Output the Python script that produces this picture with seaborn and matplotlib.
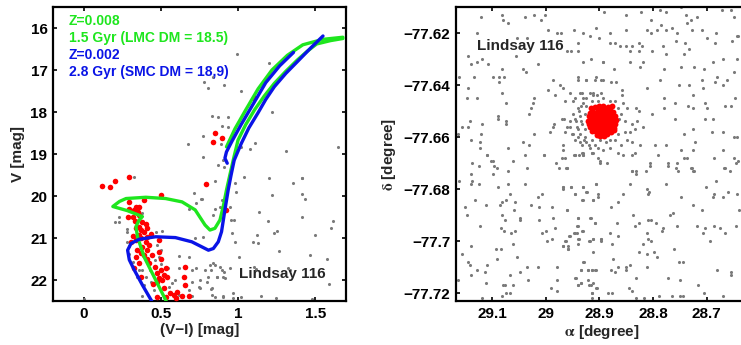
import matplotlib
matplotlib.use('Agg')
import matplotlib.pyplot as plt
import pandas as pd
import seaborn as sns

# ---------------- CMD (left panel) ----------------
# field stars (V-I, V)
cmd_field = [
    (0.996, 16.62), (1.017, 17.5), (0.782, 17.28), (0.803, 17.42), (0.91, 17.36), (0.829, 18.10),
    (0.867, 18.11), (0.936, 18.11), (0.893, 18.33), (0.936, 18.35), (0.77, 18.56), (0.675, 18.77),
    (0.889, 18.75), (0.77, 19.06), (0.872, 19.25), (0.91, 19.30), (0.323, 19.54),
    (1.199, 16.83), (0.84, 17.17), (1.218, 18.0), (1.111, 18.73), (1.075, 18.88), (1.31, 18.94),
    (1.647, 18.83), (1.038, 19.55), (1.412, 19.56), (1.017, 18.83), (0.904, 19.14),
    (1.199, 19.58), (1.417, 19.58), (1.359, 19.70), (1.218, 19.98), (1.417, 19.96), (1.432, 20.08),
    (1.134, 20.39), (1.192, 20.59), (1.417, 20.51), (1.615, 20.59), (1.604, 20.75), (1.252, 20.83),
    (1.235, 20.89), (1.124, 20.94), (1.502, 20.94), (1.096, 21.09), (1.128, 21.13), (1.263, 21.31),
    (1.004, 21.45), (1.466, 21.40), (1.577, 21.50), (1.103, 21.70), (1.117, 21.74), (1.325, 21.72),
    (1.338, 21.76), (0.947, 21.72), (0.851, 21.64), (0.822, 21.76), (0.91, 21.80), (0.883, 21.70),
    (0.808, 21.92), (0.861, 21.93), (0.915, 21.96), (1.587, 22.09), (0.825, 22.22), (0.829, 22.35),
    (0.904, 22.39), (0.968, 22.31), (0.968, 22.42), (1.021, 22.41), (1.149, 22.39), (1.245, 22.43),
    (1.48, 22.45), (0.752, 22.19), (0.761, 20.08), (0.851, 20.30), (0.953, 20.58), (0.974, 20.57),
    (0.947, 20.26), (0.893, 20.10), (0.989, 19.90), (0.979, 19.70), (0.963, 20.87), (0.982, 21.1),
    (0.85, 19.64), (0.712, 19.92), (0.765, 20.08), (0.727, 20.16), (0.68, 20.32), (0.84, 20.45),
    (0.883, 20.27), (0.199, 20.61), (0.227, 20.49), (0.231, 20.61), (0.278, 20.85), (0.28, 20.79),
    (0.38, 20.40), (0.466, 20.85), (0.509, 20.83), (0.278, 21.09), (0.295, 21.19), (0.477, 21.17),
    (0.498, 21.29), (0.487, 21.46), (0.615, 21.43), (0.68, 21.45), (0.776, 20.97), (0.722, 21.01),
    (0.462, 21.52), (0.498, 21.62), (0.547, 21.72), (0.615, 21.72), (0.7, 21.76), (0.727, 21.72),
    (0.818, 21.64), (0.84, 21.60), (0.893, 21.76), (0.786, 21.76), (0.861, 21.92), (0.904, 21.92),
    (0.754, 22.0), (0.797, 22.04), (0.744, 22.16), (0.7, 22.04), (0.594, 22.0), (0.573, 22.08),
    (0.551, 22.16), (0.68, 22.24), (0.829, 22.2), (0.85, 22.4), (0.904, 22.4), (0.7, 22.38),
    (0.615, 22.36), (0.38, 22.38), (0.348, 21.92), (0.316, 21.56), (0.402, 21.92), (0.434, 22.04),
    (0.391, 22.12), (0.455, 22.24), (0.43, 21.76), (0.359, 21.76), (0.295, 21.37), (0.38, 21.76),
    (0.0, 22.45),
]

# cluster members (V-I, V)
cmd_members = [
    (0.291, 19.54), (0.205, 19.64), (0.12, 19.75), (0.167, 19.79), (0.79, 19.71), (0.498, 19.98),
    (0.391, 20.10), (0.295, 20.14), (0.338, 20.27), (0.359, 20.27), (0.327, 20.33), (0.295, 20.32),
    (0.353, 20.37), (0.316, 20.49), (0.284, 20.49), (0.38, 20.63), (0.402, 20.67), (0.359, 20.73),
    (0.338, 20.77), (0.37, 20.81), (0.412, 20.77), (0.391, 20.85), (0.434, 20.90), (0.359, 20.93),
    (0.316, 20.95), (0.338, 21.05), (0.306, 21.09), (0.37, 21.01), (0.412, 20.97), (0.487, 21.05),
    (0.423, 21.17), (0.38, 21.21), (0.412, 21.29), (0.348, 21.29), (0.444, 21.41), (0.391, 21.41),
    (0.338, 21.46), (0.412, 21.51), (0.498, 21.51), (0.423, 21.60), (0.359, 21.59), (0.327, 21.72),
    (0.37, 21.92), (0.53, 21.72), (0.498, 21.76), (0.477, 21.84), (0.519, 21.88), (0.487, 21.96),
    (0.541, 21.92), (0.509, 22.0), (0.658, 21.68), (0.648, 21.94), (0.477, 22.04), (0.658, 22.12),
    (0.605, 22.28), (0.583, 22.36), (0.637, 22.38), (0.68, 22.38), (0.562, 22.32), (0.477, 22.41),
    (0.536, 22.40), (0.925, 20.33), (0.487, 21.33), (0.85, 18.51), (0.84, 18.71), (0.893, 18.61),
    (1.103, 17.66), (0.33, 20.60), (0.36, 20.45), (0.40, 21.10), (0.37, 21.35), (0.46, 21.70),
    (0.45, 22.10), (0.52, 22.20), (0.60, 22.42),
]

# isochrone Z=0.008, 1.5 Gyr (LMC DM = 18.5)
iso_lmc_vi = [0.534, 0.466, 0.391, 0.348, 0.338, 0.359, 0.38, 0.284, 0.188, 0.231, 0.274, 0.402,
              0.53, 0.637, 0.722, 0.786, 0.818, 0.85, 0.883, 0.904, 0.925, 0.95, 0.975, 1.0, 1.05,
              1.107, 1.17, 1.235, 1.31, 1.385, 1.45, 1.51, 1.6, 1.68]
iso_lmc_v = [22.5, 22.0, 21.45, 20.97, 20.73, 20.57, 20.49, 20.35, 20.25, 20.13, 20.06, 20.03,
             20.06, 20.14, 20.33, 20.69, 20.81, 20.77, 20.57, 20.25, 19.86, 19.45, 19.05, 18.67, 18.3,
             17.95, 17.62, 17.32, 17.03, 16.76, 16.55, 16.38, 16.3, 16.25]
iso_lmc_agb_vi = [0.925, 0.98, 1.05, 1.13, 1.22, 1.32, 1.42, 1.55, 1.68]
iso_lmc_agb_v = [18.83, 18.4, 17.95, 17.45, 17.0, 16.65, 16.4, 16.27, 16.22]

# isochrone Z=0.002, 2.8 Gyr (SMC DM = 18.9)
iso_smc_vi = [0.44, 0.38, 0.327, 0.295, 0.284, 0.306, 0.359, 0.466, 0.594, 0.70, 0.765, 0.808,
              0.84, 0.872, 0.893, 0.915, 0.936, 0.955, 0.975, 1.021, 1.07, 1.128, 1.18, 1.235,
              1.31, 1.385, 1.47, 1.551]
iso_smc_v = [22.5, 22.12, 21.76, 21.52, 21.29, 21.13, 21.03, 20.97, 20.99, 21.09, 21.21, 21.29,
             21.25, 21.09, 20.85, 20.33, 19.86, 19.5, 19.15, 18.75, 18.38, 18.03, 17.7, 17.40,
             17.08, 16.80, 16.48, 16.19]
iso_smc_agb_vi = [0.93, 0.915, 0.925, 0.96, 1.02, 1.1, 1.18, 1.27, 1.36]
iso_smc_agb_v = [19.22, 19.1, 18.95, 18.7, 18.3, 17.8, 17.3, 16.9, 16.58]

cmd_xticks = [0, 0.5, 1, 1.5]
cmd_yticks = [16, 17, 18, 19, 20, 21, 22]

# ---------------- sky map (right panel) ----------------
map_field = [
    (29.120, -77.614), (29.082, -77.613), (29.079, -77.615), (29.071, -77.616), (29.039, -77.614),
    (29.021, -77.613), (29.009, -77.615), (29.001, -77.613), (28.996, -77.619), (28.979, -77.620),
    (28.971, -77.620), (28.948, -77.619), (28.931, -77.620), (28.917, -77.621), (29.128, -77.620),
    (29.053, -77.622), (29.035, -77.622), (28.939, -77.624), (28.961, -77.627), (28.953, -77.627),
    (28.940, -77.627), (29.145, -77.629), (29.127, -77.631), (29.118, -77.630), (29.108, -77.632),
    (29.139, -77.632), (29.056, -77.629), (29.015, -77.632), (28.930, -77.631), (28.915, -77.630),
    (28.894, -77.631), (29.082, -77.634), (29.043, -77.634), (29.037, -77.635), (29.161, -77.637),
    (29.133, -77.637), (29.099, -77.637), (29.086, -77.637), (29.077, -77.637), (29.086, -77.639),
    (28.986, -77.638), (28.940, -77.638), (28.925, -77.638), (28.909, -77.638), (28.896, -77.638),
    (29.145, -77.641), (29.081, -77.643), (28.996, -77.642), (28.973, -77.640), (28.967, -77.641),
    (28.955, -77.643), (29.147, -77.645), (29.128, -77.645), (29.074, -77.647), (29.022, -77.645),
    (28.983, -77.644), (29.023, -77.647), (29.027, -77.649), (28.945, -77.645), (29.031, -77.651),
    (29.089, -77.652), (29.089, -77.653), (29.073, -77.654), (29.073, -77.655), (28.985, -77.655),
    (28.987, -77.656), (28.966, -77.653), (29.156, -77.656), (29.145, -77.656), (29.141, -77.654),
    (29.118, -77.655), (28.992, -77.658), (28.964, -77.658), (29.022, -77.659), (29.163, -77.659),
    (29.120, -77.659), (29.139, -77.661), (29.122, -77.662), (29.043, -77.662), (29.031, -77.663),
    (29.070, -77.664), (29.122, -77.664), (29.110, -77.667), (29.004, -77.667), (28.967, -77.665),
    (28.945, -77.667), (28.933, -77.666),
    (28.936, -77.643), (28.930, -77.645), (28.917, -77.643), (28.911, -77.644), (28.902, -77.646),
    (28.934, -77.648), (28.924, -77.648), (28.938, -77.650), (28.927, -77.651), (28.945, -77.653),
    (28.934, -77.654), (28.955, -77.656), (28.939, -77.657), (28.927, -77.657), (28.951, -77.659),
    (28.939, -77.660), (28.928, -77.661), (28.920, -77.663), (28.933, -77.663), (28.914, -77.666),
    (28.930, -77.667),
    (29.109, -77.667), (29.137, -77.670), (29.102, -77.669), (29.098, -77.669), (29.124, -77.671),
    (29.097, -77.671), (29.090, -77.672), (29.061, -77.669), (29.039, -77.667), (29.004, -77.667),
    (28.969, -77.668), (28.948, -77.667), (28.938, -77.667), (28.930, -77.666), (28.913, -77.666),
    (28.902, -77.668), (28.898, -77.669), (28.980, -77.670), (28.962, -77.672), (28.975, -77.672),
    (29.035, -77.672), (29.071, -77.673), (29.099, -77.674), (29.140, -77.674), (29.137, -77.677),
    (29.139, -77.678), (29.161, -77.677), (29.124, -77.678), (29.070, -77.678), (29.089, -77.679),
    (29.039, -77.678), (28.967, -77.679), (28.967, -77.680), (28.952, -77.679), (28.930, -77.679),
    (28.906, -77.678), (28.923, -77.681), (28.945, -77.682), (28.902, -77.683), (28.932, -77.684),
    (28.911, -77.684), (29.006, -77.682), (29.015, -77.683), (29.067, -77.682), (29.073, -77.684),
    (29.082, -77.685), (29.058, -77.685), (29.085, -77.686), (29.111, -77.686), (29.132, -77.684),
    (29.027, -77.686), (29.012, -77.687), (28.988, -77.687), (28.960, -77.688), (29.059, -77.688),
    (29.150, -77.687), (29.147, -77.690), (29.081, -77.690), (29.076, -77.692), (29.047, -77.691),
    (29.047, -77.692), (29.013, -77.692), (28.986, -77.691), (28.939, -77.691), (28.917, -77.691),
    (28.909, -77.693), (28.940, -77.694), (29.122, -77.694), (29.083, -77.695), (29.077, -77.696),
    (29.058, -77.696), (29.065, -77.697), (29.000, -77.696), (29.006, -77.697), (28.983, -77.695),
    (28.989, -77.699), (28.998, -77.700), (28.947, -77.697), (28.942, -77.697), (28.932, -77.696),
    (28.955, -77.698), (28.938, -77.699), (28.917, -77.700), (28.911, -77.699), (28.897, -77.699),
    (28.897, -77.700), (28.963, -77.700), (28.967, -77.702), (28.959, -77.702), (28.958, -77.703),
    (28.939, -77.701), (28.912, -77.704), (29.060, -77.701), (29.140, -77.702), (29.155, -77.705),
    (29.084, -77.703), (29.093, -77.703), (29.053, -77.706), (29.090, -77.707), (29.144, -77.708),
    (29.141, -77.709), (29.109, -77.709), (29.015, -77.710), (28.979, -77.710), (29.035, -77.710),
    (28.929, -77.708), (28.935, -77.711), (28.914, -77.711), (28.907, -77.711), (28.922, -77.711),
    (29.127, -77.711), (29.113, -77.712), (29.140, -77.713), (29.047, -77.712), (29.066, -77.713),
    (29.033, -77.715), (28.978, -77.715), (28.944, -77.714), (29.163, -77.715), (29.112, -77.716),
    (29.076, -77.717), (29.079, -77.717), (29.060, -77.717), (28.934, -77.716), (28.939, -77.717),
    (28.920, -77.717), (28.911, -77.716), (28.905, -77.718), (28.990, -77.718), (28.978, -77.719),
    (29.066, -77.720), (29.074, -77.720), (29.082, -77.721), (29.119, -77.722), (28.914, -77.722),
    (28.914, -77.720),
    (28.891, -77.612), (28.851, -77.613), (28.823, -77.612), (28.804, -77.615), (28.787, -77.611),
    (28.776, -77.612), (28.748, -77.610), (28.739, -77.613), (28.737, -77.616), (28.729, -77.615),
    (28.719, -77.614), (28.672, -77.611), (28.655, -77.611), (28.650, -77.614), (28.906, -77.618),
    (28.850, -77.619), (28.811, -77.619), (28.804, -77.620), (28.792, -77.619), (28.786, -77.617),
    (28.776, -77.619), (28.764, -77.618), (28.756, -77.620), (28.727, -77.619), (28.709, -77.619),
    (28.683, -77.620), (28.642, -77.621), (28.881, -77.620), (28.900, -77.622), (28.881, -77.624),
    (28.871, -77.624), (28.862, -77.625), (28.851, -77.625), (28.840, -77.625), (28.827, -77.624),
    (28.821, -77.625), (28.843, -77.627), (28.826, -77.627), (28.801, -77.627), (28.781, -77.625),
    (28.757, -77.623), (28.741, -77.624), (28.700, -77.622), (28.685, -77.624), (28.653, -77.623),
    (28.643, -77.621), (28.775, -77.628), (28.742, -77.628), (28.733, -77.626), (28.670, -77.630),
    (28.644, -77.630), (28.894, -77.631), (28.843, -77.631), (28.818, -77.631), (28.824, -77.633),
    (28.872, -77.634), (28.779, -77.634), (28.747, -77.633), (28.724, -77.633), (28.705, -77.634),
    (28.689, -77.631), (28.650, -77.635), (28.787, -77.638), (28.811, -77.641), (28.751, -77.640),
    (28.733, -77.640), (28.708, -77.638), (28.706, -77.641), (28.680, -77.637), (28.670, -77.640),
    (28.685, -77.639), (28.663, -77.638), (28.779, -77.645), (28.759, -77.647), (28.725, -77.644),
    (28.703, -77.647), (28.700, -77.649), (28.734, -77.648), (28.725, -77.649), (28.665, -77.648),
    (28.655, -77.648), (28.647, -77.645), (28.704, -77.653), (28.688, -77.653), (28.759, -77.653),
    (28.801, -77.651), (28.780, -77.649), (28.742, -77.659), (28.725, -77.657), (28.691, -77.658),
    (28.670, -77.658), (28.650, -77.660), (28.644, -77.660), (28.722, -77.662), (28.796, -77.663),
    (28.790, -77.667), (28.776, -77.663), (28.747, -77.665), (28.726, -77.665), (28.742, -77.668),
    (28.737, -77.668), (28.687, -77.668), (28.670, -77.665), (28.649, -77.668), (28.641, -77.669),
    (28.772, -77.670), (28.755, -77.670), (28.728, -77.672), (28.668, -77.672), (28.725, -77.673),
    (28.806, -77.670), (28.840, -77.673), (28.831, -77.673),
    (28.911, -77.643), (28.905, -77.644), (28.896, -77.643), (28.893, -77.645), (28.880, -77.646),
    (28.871, -77.646), (28.857, -77.642), (28.858, -77.644), (28.914, -77.646), (28.930, -77.647),
    (28.924, -77.645), (28.933, -77.643), (28.869, -77.639), (28.878, -77.639), (28.894, -77.638),
    (28.906, -77.637), (28.925, -77.638), (28.939, -77.637), (28.949, -77.646), (28.939, -77.649),
    (28.949, -77.651), (28.936, -77.652), (28.944, -77.654), (28.955, -77.654), (28.961, -77.656),
    (28.942, -77.656), (28.933, -77.655), (28.950, -77.659), (28.936, -77.659), (28.927, -77.660),
    (28.945, -77.661), (28.936, -77.662), (28.924, -77.662), (28.914, -77.661), (28.908, -77.663),
    (28.899, -77.661), (28.888, -77.662), (28.880, -77.661), (28.871, -77.661), (28.859, -77.663),
    (28.849, -77.661), (28.865, -77.659), (28.852, -77.658), (28.843, -77.658), (28.834, -77.657),
    (28.840, -77.655), (28.852, -77.654), (28.863, -77.653), (28.860, -77.651), (28.849, -77.649),
    (28.831, -77.649), (28.826, -77.650), (28.829, -77.654), (28.818, -77.656), (28.855, -77.647),
    (28.865, -77.649), (28.917, -77.664), (28.902, -77.664), (28.893, -77.665), (28.880, -77.664),
    (28.865, -77.666), (28.855, -77.667), (28.840, -77.667), (28.834, -77.666), (28.911, -77.666),
    (28.930, -77.667), (28.945, -77.667), (28.964, -77.668), (28.899, -77.670), (28.886, -77.670),
    (28.967, -77.663), (28.970, -77.653), (28.964, -77.646), (28.961, -77.672), (28.824, -77.663),
    (28.840, -77.662),
    (28.967, -77.679), (28.952, -77.679), (28.945, -77.682), (28.931, -77.684), (28.931, -77.679),
    (28.924, -77.681), (28.911, -77.684), (28.906, -77.678), (28.902, -77.682), (28.961, -77.672),
    (28.879, -77.687), (28.865, -77.685), (28.855, -77.682), (28.842, -77.678), (28.839, -77.673),
    (28.831, -77.674), (28.813, -77.673), (28.805, -77.671), (28.811, -77.680), (28.807, -77.681),
    (28.809, -77.682), (28.776, -77.678), (28.772, -77.671), (28.757, -77.672), (28.753, -77.673),
    (28.729, -77.672), (28.724, -77.673), (28.702, -77.679), (28.682, -77.677), (28.666, -77.672),
    (28.657, -77.673), (28.646, -77.670), (28.660, -77.681), (28.687, -77.682), (28.689, -77.683),
    (28.670, -77.683), (28.644, -77.682), (28.639, -77.688), (28.747, -77.683), (28.725, -77.686),
    (28.709, -77.688), (28.961, -77.688), (28.939, -77.691), (28.916, -77.691), (28.909, -77.693),
    (28.942, -77.694), (28.945, -77.697), (28.931, -77.696), (28.956, -77.698), (28.964, -77.700),
    (28.958, -77.703), (28.968, -77.702), (28.939, -77.699), (28.919, -77.700), (28.911, -77.699),
    (28.897, -77.699), (28.881, -77.697), (28.865, -77.698), (28.876, -77.701), (28.867, -77.693),
    (28.837, -77.690), (28.826, -77.693), (28.834, -77.694), (28.810, -77.692), (28.803, -77.692),
    (28.795, -77.693), (28.811, -77.697), (28.810, -77.699), (28.818, -77.701), (28.803, -77.700),
    (28.781, -77.695), (28.784, -77.696), (28.768, -77.690), (28.762, -77.689), (28.755, -77.694),
    (28.760, -77.703), (28.719, -77.694), (28.703, -77.695), (28.706, -77.697), (28.687, -77.694),
    (28.675, -77.695), (28.665, -77.697), (28.645, -77.694), (28.694, -77.700), (28.827, -77.704),
    (28.812, -77.705), (28.798, -77.704), (28.792, -77.706), (28.874, -77.707), (28.930, -77.708),
    (28.935, -77.711), (28.922, -77.711), (28.914, -77.711), (28.908, -77.711), (28.879, -77.711),
    (28.871, -77.712), (28.865, -77.710), (28.851, -77.710), (28.843, -77.709), (28.851, -77.711),
    (28.812, -77.710), (28.752, -77.708), (28.744, -77.708), (28.681, -77.711), (28.655, -77.712),
    (28.655, -77.713), (28.945, -77.714), (28.935, -77.716), (28.939, -77.717), (28.921, -77.715),
    (28.916, -77.717), (28.906, -77.718), (28.914, -77.720), (28.832, -77.714), (28.844, -77.718),
    (28.840, -77.719), (28.772, -77.714), (28.750, -77.715), (28.717, -77.717), (28.705, -77.720),
    (28.669, -77.721), (28.883, -77.720), (28.877, -77.720), (28.831, -77.722), (28.817, -77.722),
    (28.788, -77.721), (28.764, -77.721), (28.750, -77.721), (28.744, -77.721),
]

# cluster members on the sky (alpha, delta)
map_members = [
    (28.876, -77.6480), (28.884, -77.6485), (28.893, -77.6480), (28.901, -77.6482), (28.909, -77.6486),
    (28.916, -77.6490), (28.880, -77.6495), (28.887, -77.6495), (28.895, -77.6497), (28.903, -77.6494),
    (28.874, -77.6505), (28.881, -77.6505), (28.887, -77.6508), (28.893, -77.6505), (28.899, -77.6505),
    (28.905, -77.6507), (28.912, -77.6505), (28.917, -77.6508), (28.870, -77.6520), (28.876, -77.6520),
    (28.883, -77.6522), (28.889, -77.6520), (28.895, -77.6520), (28.901, -77.6521), (28.907, -77.6520),
    (28.913, -77.6522), (28.919, -77.6520), (28.869, -77.6535), (28.875, -77.6535), (28.881, -77.6536),
    (28.888, -77.6535), (28.894, -77.6535), (28.900, -77.6534), (28.906, -77.6535), (28.912, -77.6536),
    (28.918, -77.6535), (28.921, -77.6540), (28.870, -77.6550), (28.877, -77.6550), (28.884, -77.6551),
    (28.890, -77.6550), (28.896, -77.6550), (28.902, -77.6549), (28.908, -77.6550), (28.914, -77.6551),
    (28.920, -77.6548), (28.873, -77.6565), (28.879, -77.6565), (28.885, -77.6566), (28.891, -77.6565),
    (28.897, -77.6565), (28.903, -77.6564), (28.909, -77.6565), (28.915, -77.6563), (28.878, -77.6580),
    (28.884, -77.6580), (28.890, -77.6581), (28.896, -77.6580), (28.902, -77.6580), (28.908, -77.6578),
    (28.913, -77.6576), (28.892, -77.6595), (28.898, -77.6597), (28.904, -77.6593), (28.886, -77.6590),
    (28.872, -77.6572), (28.918, -77.6560),
]

map_xticks = [29.1, 29.0, 28.9, 28.8, 28.7]
map_xticklabels = ['29.1', '29', '28.9', '28.8', '28.7']
map_yticks = [-77.62, -77.64, -77.66, -77.68, -77.70, -77.72]
map_yticklabels = ['\u221277.62', '\u221277.64', '\u221277.66', '\u221277.68', '\u221277.7', '\u221277.72']

LMC_GREEN = '#1ee61e'
SMC_BLUE = '#0a14e6'
FIELD_GREY = '#7a7a7a'

sns.set_style('ticks')
plt.rcParams['font.family'] = ['Liberation Sans', 'DejaVu Sans']
plt.rcParams['font.weight'] = 'bold'
plt.rcParams['axes.labelweight'] = 'bold'
plt.rcParams['mathtext.fontset'] = 'stix'

fig = plt.figure(figsize=(7.41, 3.45), dpi=100)
ax1 = fig.add_axes([0.0715, 0.1275, 0.3954, 0.8522])
ax2 = fig.add_axes([0.6154, 0.1275, 0.3941, 0.8522])

df_field = pd.DataFrame(cmd_field, columns=['vi', 'v'])
df_mem = pd.DataFrame(cmd_members, columns=['vi', 'v'])

sns.scatterplot(data=df_field, x='vi', y='v', ax=ax1, color=FIELD_GREY, s=5, linewidth=0, zorder=2)
sns.scatterplot(data=df_mem, x='vi', y='v', ax=ax1, color='red', s=16, linewidth=0, zorder=3)
for xs, ys, col in [(iso_lmc_vi, iso_lmc_v, LMC_GREEN), (iso_lmc_agb_vi, iso_lmc_agb_v, LMC_GREEN),
                    (iso_smc_vi, iso_smc_v, SMC_BLUE), (iso_smc_agb_vi, iso_smc_agb_v, SMC_BLUE)]:
    sns.lineplot(x=xs, y=ys, sort=False, estimator=None, ax=ax1, color=col, lw=2.4, zorder=4)

ax1.set_xlim(-0.2, 1.7)
ax1.set_ylim(22.5, 15.5)
ax1.set_xticks(cmd_xticks)
ax1.set_xticklabels(['0', '0.5', '1', '1.5'])
ax1.set_yticks(cmd_yticks)
ax1.set_xlabel('(V\u2212I) [mag]', fontsize=11, fontweight='bold', labelpad=2)
ax1.set_ylabel('V [mag]', fontsize=11, fontweight='bold', labelpad=4)

notes = [('Z=0.008', LMC_GREEN), ('1.5 Gyr (LMC DM = 18.5)', LMC_GREEN),
         ('Z=0.002', SMC_BLUE), ('2.8 Gyr (SMC DM = 18,9)', SMC_BLUE)]
for i, (txt, col) in enumerate(notes):
    ax1.text(0.055, 0.952 - i * 0.058, txt, transform=ax1.transAxes, color=col,
             fontsize=10, fontweight='bold', va='center', ha='left')
ax1.text(0.635, 0.093, 'Lindsay 116', transform=ax1.transAxes, fontsize=11,
         fontweight='bold', va='center', ha='left')

df_mf = pd.DataFrame(map_field, columns=['ra', 'dec'])
df_mm = pd.DataFrame(map_members, columns=['ra', 'dec'])
sns.scatterplot(data=df_mf, x='ra', y='dec', ax=ax2, color=FIELD_GREY, s=5, linewidth=0, zorder=2)
sns.scatterplot(data=df_mm, x='ra', y='dec', ax=ax2, color='red', s=18, linewidth=0, zorder=3)
ax2.set_xlim(29.167, 28.623)
ax2.set_ylim(-77.723, -77.610)
ax2.set_xticks(map_xticks)
ax2.set_xticklabels(map_xticklabels)
ax2.set_yticks(map_yticks)
ax2.set_yticklabels(map_yticklabels)
ax2.set_xlabel(r'$\mathrm{\alpha}$ [degree]', fontsize=11, fontweight='bold', labelpad=2)
ax2.set_ylabel(r'$\mathrm{\delta}$ [degree]', fontsize=11, fontweight='bold', labelpad=4)
ax2.text(0.072, 0.868, 'Lindsay 116', transform=ax2.transAxes, fontsize=11,
         fontweight='bold', va='center', ha='left')

for ax in (ax1, ax2):
    for sp in ax.spines.values():
        sp.set_visible(True)
        sp.set_linewidth(1.6)
        sp.set_color('black')
    ax.tick_params(direction='in', length=3, width=1.2, top=True, right=True,
                   labelsize=11, pad=4, colors='black')
    for lab in ax.get_xticklabels() + ax.get_yticklabels():
        lab.set_fontweight('bold')
    ax.grid(False)

fig.savefig('out.png', dpi=100)
